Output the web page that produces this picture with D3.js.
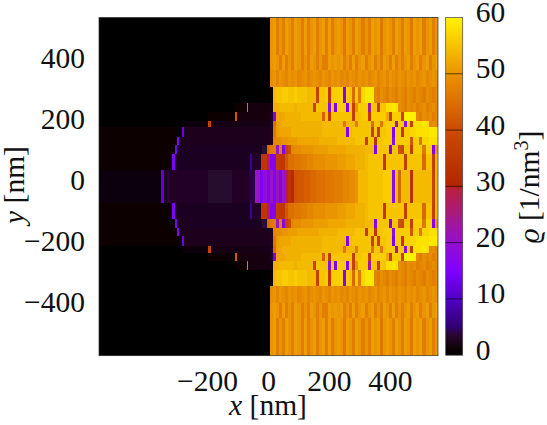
<!DOCTYPE html>
<html>
<head>
<meta charset="utf-8">
<script src="https://cdn.jsdelivr.net/npm/d3@7"></script>
<style>
  html, body { margin: 0; padding: 0; background: #fff; }
  svg { display: block; }
  text { font-family: "Liberation Serif", serif; font-size: 29.5px; fill: #111; }
</style>
</head>
<body>
<svg id="chart" width="547" height="425"></svg>
<script>
const w = 547;
const h = 425;

const xTicks = [-200, 0, 200, 400];
const yTicks = [-400, -200, 0, 200, 400];
const cbTicks = [0, 10, 20, 30, 40, 50, 60];

// colour stops of the palette
const paletteRho = [0, 1.5, 2.5, 3.5, 5, 10, 15, 20, 25, 29.5, 30, 35, 40, 45, 50, 55, 60];
const paletteColor = ['#000000', '#100308', '#1c0520', '#28072e', '#300070', '#5000c8', '#7f00ff', '#9210d0', '#a81a80', '#b82040',
  '#b42400', '#c03800', '#cc4a00', '#dc7000', '#e99400', '#f7c400', '#fff200'];

// upper edge of each half row in nm (the picture mirrors around y = 0), last one closes the centre row
const yEdges = [556, 433, 384, 327, 275, 246, 217, 195, 164, 136, 106, 55, -55];

// right of x = 5: one value per 10 nm column
const rho0 = [50, 51, 47, 50, 47, 51, 50, 47, 51, 50, 47, 51, 47, 50, 51, 47, 50, 51, 47, 51, 47, 50, 51, 50, 46, 51, 50, 47, 51, 50, 47, 50, 47, 51, 50, 51, 46, 50, 51, 50, 47, 51, 50, 47, 51, 50, 46, 51, 50, 51, 47, 50, 51, 47, 50];
const rho1 = [50, 51, 50, 47, 51, 47, 50, 47, 51, 50, 47, 50, 47, 51, 50, 47, 50, 47, 47, 51, 50, 51, 50, 51, 47, 50, 47, 51, 47, 50, 51, 47, 50, 51, 47, 50, 47, 51, 50, 47, 51, 47, 50, 47, 50, 51, 47, 50, 51, 47, 50, 51, 47, 50, 51];
const rho2 = [49, 50, 48, 50, 49, 48, 50, 49, 50, 48, 49, 50, 48, 49, 50, 49, 48, 50, 49, 48, 50, 49, 50, 48, 49, 48, 50, 49, 48, 50, 49, 50, 48, 49, 50, 48, 49, 50, 48, 50, 49, 48, 50, 49, 48, 50, 49, 50, 48, 49, 50, 48, 49, 50, 49];
const rho3 = [1, 54, 55, 55, 56, 56, 55, 55, 56, 55, 55, 55, 54, 54, 54, 38, 55, 55, 56, 34, 56, 56, 56, 57, 16, 56, 55, 44, 56, 46, 57, 59, 59, 59, 48, 47, 49, 48, 47, 49, 48, 47, 49, 48, 47, 49, 48, 47, 49, 48, 47, 49, 48, 47, 48];
const rho4 = [2, 53, 53, 54, 54, 54, 54, 54, 53, 54, 54, 54, 54, 54, 38, 55, 55, 55, 55, 18, 55, 17, 56, 56, 56, 16, 55, 37, 50, 56, 56, 56, 23, 55, 55, 36, 55, 55, 58, 58, 59, 58, 49, 48, 47, 49, 48, 49, 47, 48, 49, 47, 48, 49, 48];
const rho5 = [3, 17, 52, 52, 52, 53, 53, 53, 53, 53, 54, 54, 54, 54, 54, 54, 54, 43, 55, 35, 55, 55, 55, 55, 55, 55, 55, 36, 55, 55, 56, 56, 35, 56, 56, 56, 56, 56, 52, 36, 56, 56, 56, 38, 60, 60, 60, 60, 48, 47, 49, 48, 49, 47, 48];
const rho6 = [3, 45, 51, 52, 53, 53, 53, 53, 53, 53, 53, 53, 53, 53, 53, 53, 53, 54, 54, 54, 54, 54, 54, 54, 46, 54, 54, 54, 47, 55, 55, 55, 55, 45, 55, 55, 46, 55, 56, 56, 56, 22, 56, 56, 18, 56, 36, 58, 58, 58, 59, 58, 48, 49, 48];
const rho7 = [3, 46, 51, 52, 52, 52, 52, 53, 53, 53, 53, 53, 53, 53, 53, 53, 53, 54, 54, 54, 54, 54, 54, 54, 54, 17, 54, 55, 55, 55, 55, 55, 55, 36, 55, 36, 55, 55, 56, 56, 16, 56, 56, 35, 56, 56, 57, 57, 58, 58, 58, 58, 59, 59, 59];
const rho8 = [3, 48, 49, 49, 50, 50, 51, 51, 51, 52, 52, 52, 52, 52, 52, 52, 53, 53, 53, 53, 53, 53, 54, 54, 54, 54, 54, 54, 55, 55, 55, 36, 55, 55, 34, 55, 55, 56, 56, 56, 18, 56, 56, 56, 56, 56, 42, 56, 56, 46, 57, 57, 58, 58, 58];
const rho9 = [46, 47, 21, 47, 16, 37, 40, 48, 49, 49, 50, 50, 50, 50, 51, 51, 51, 51, 51, 52, 52, 52, 52, 52, 52, 53, 53, 53, 53, 53, 53, 54, 54, 54, 17, 55, 55, 55, 55, 16, 55, 55, 41, 40, 55, 55, 36, 56, 56, 56, 46, 57, 57, 17, 50];
const rho10 = [17, 17, 36, 35, 35, 42, 45, 45, 46, 46, 47, 47, 48, 48, 49, 49, 49, 49, 50, 50, 50, 50, 51, 51, 51, 52, 52, 52, 53, 53, 53, 54, 55, 55, 55, 55, 55, 35, 55, 55, 55, 55, 55, 55, 36, 55, 55, 55, 55, 55, 44, 55, 55, 37, 54];
const rho11 = [21, 15, 22, 17, 21, 28, 34, 32, 41, 42, 42, 43, 43, 44, 44, 45, 45, 45, 46, 46, 46, 47, 47, 47, 48, 48, 49, 49, 50, 54, 54, 54, 55, 55, 55, 55, 55, 56, 56, 56, 18, 54, 44, 54, 54, 54, 33, 54, 54, 54, 54, 54, 54, 38, 54];

// left of x = 5: runs of [start x in nm, rho]
const left0 = [[-556, 0]];
const left1 = [[-556, 0]];
const left2 = [[-556, 0]];
const left3 = [[-556, 0], [-90, 0.6]];
const left4 = [[-556, 0], [-110, 0.8], [-72, 46], [-68, 1.8]];
const left5 = [[-556, 0.3], [-200, 0.8], [-110, 42], [-104, 1.8]];
const left6 = [[-556, 0.6], [-280, 1.3], [-197, 38], [-190, 2.2]];
const left7 = [[-556, 1], [-285, 13], [-277, 2.4]];
const left8 = [[-556, 1.2], [-300, 17], [-292, 2.4]];
const left9 = [[-556, 1.2], [-306, 14], [-300, 2.5], [-20, 3.6], [-6, 44]];
const left10 = [[-556, 1.2], [-316, 15], [-306, 2.4], [-295, 5], [-292, 2.5], [-60, 7], [-54, 3.2], [-25, 34], [-6, 27]];
const left11 = [[-556, 1.5], [-352, 12], [-343, 2.8], [-333, 4.2], [-326, 3], [-200, 3.4], [-120, 3], [-65, 4], [-44, 21], [-28, 16], [-17, 19], [-6, 17]];

const rightRows = [rho0, rho1, rho2, rho3, rho4, rho5, rho6, rho7, rho8, rho9, rho10, rho11];
const leftRows = [left0, left1, left2, left3, left4, left5, left6, left7, left8, left9, left10, left11];

const xDomain = [-556, 556];
const colStart = 5;
const colWidth = 10;

const xScale = d3.scaleLinear().domain(xDomain).range([99, 438]);
const yScale = d3.scaleLinear().domain(xDomain).range([355.7, 17.5]);
const cbScale = d3.scaleLinear().domain([0, 60]).range([355.2, 17.5]);
const color = d3.scaleLinear().domain(paletteRho).range(paletteColor).clamp(true);

// flatten rows to cells, top half is mirrored to the bottom half
const cells = [];
rightRows.forEach((row, r) => {
  const yTop = yEdges[r];
  const yBot = yEdges[r + 1];
  const spans = [[yTop, yBot]];
  if (r < 11) spans.push([-yBot, -yTop]);
  spans.forEach((s) => {
    leftRows[r].forEach((run, k) => {
      const next = k + 1 < leftRows[r].length ? leftRows[r][k + 1][0] : colStart;
      cells.push({ x0: run[0], x1: next, y0: s[0], y1: s[1], v: run[1] });
    });
    row.forEach((v, i) => {
      cells.push({ x0: colStart + i * colWidth, x1: colStart + (i + 1) * colWidth, y0: s[0], y1: s[1], v: v });
    });
  });
});

const svg = d3.select('#chart');
const defs = svg.append('defs');

const plotX = xScale(xDomain[0]);
const plotY = yScale(xDomain[1]);
const plotW = xScale(xDomain[1]) - xScale(xDomain[0]);
const plotH = yScale(xDomain[0]) - yScale(xDomain[1]);

defs.append('clipPath').attr('id', 'plot-clip')
  .append('rect')
  .attr('x', plotX)
  .attr('y', plotY)
  .attr('width', plotW)
  .attr('height', plotH);

defs.append('filter').attr('id', 'soft')
  .attr('x', '-2%').attr('y', '-2%').attr('width', '104%').attr('height', '104%')
  .append('feGaussianBlur')
  .attr('stdDeviation', 0.45);

const grad = defs.append('linearGradient').attr('id', 'cb-grad')
  .attr('x1', 0).attr('y1', 1).attr('x2', 0).attr('y2', 0);
paletteRho.forEach((v, i) => {
  grad.append('stop').attr('offset', v / 60).attr('stop-color', paletteColor[i]);
});

const heat = svg.append('g')
  .attr('clip-path', 'url(#plot-clip)')
  .append('g')
  .attr('filter', 'url(#soft)');

heat.append('rect')
  .attr('x', plotX - 3)
  .attr('y', plotY - 3)
  .attr('width', plotW + 6)
  .attr('height', plotH + 6)
  .attr('fill', '#000');

heat.selectAll('.cell')
  .data(cells)
  .enter()
  .append('rect')
  .attr('class', 'cell')
  .attr('shape-rendering', 'crispEdges')
  .attr('x', (d) => xScale(d.x0))
  .attr('y', (d) => yScale(d.y0))
  .attr('width', (d) => xScale(d.x1) - xScale(d.x0))
  .attr('height', (d) => yScale(d.y1) - yScale(d.y0))
  .attr('fill', (d) => color(d.v));

// frame
svg.append('rect')
  .attr('x', plotX)
  .attr('y', plotY)
  .attr('width', plotW)
  .attr('height', plotH)
  .attr('fill', 'none')
  .attr('stroke', '#333')
  .attr('stroke-width', 0.7);

// colour bar
const cbX = 445.7;
const cbW = 17;
svg.append('rect')
  .attr('x', cbX)
  .attr('y', cbScale(60))
  .attr('width', cbW)
  .attr('height', cbScale(0) - cbScale(60))
  .attr('fill', 'url(#cb-grad)')
  .attr('stroke', '#444')
  .attr('stroke-width', 0.7);

svg.append('g')
  .selectAll('line')
  .data(cbTicks.slice(1, -1))
  .enter()
  .append('line')
  .attr('x1', cbX)
  .attr('x2', cbX + cbW)
  .attr('y1', (d) => cbScale(d))
  .attr('y2', (d) => cbScale(d))
  .attr('stroke', '#000')
  .attr('stroke-opacity', 0.75)
  .attr('stroke-width', 0.8);

// axes, the label positions sit a bit above the real tick like in the original
const fmt = (d) => (d < 0 ? '\u2212' + Math.abs(d) : d);

const xAxis = svg.append('g')
  .attr('transform', `translate(0, ${yScale(xDomain[0])})`)
  .call(d3.axisBottom(xScale).tickValues(xTicks).tickFormat(fmt).tickSize(0).tickPadding(14));
const yAxis = svg.append('g')
  .attr('transform', `translate(${xScale(xDomain[0])}, 0)`)
  .call(d3.axisLeft(yScale).tickValues(yTicks).tickFormat(fmt).tickSize(0).tickPadding(14));
const cbAxis = svg.append('g')
  .attr('transform', `translate(${cbX + cbW}, 0)`)
  .call(d3.axisRight(cbScale).tickValues(cbTicks).tickSize(0).tickPadding(13));

[xAxis, yAxis, cbAxis].forEach((g) => {
  g.select('.domain').remove();
  g.attr('font-family', null).attr('font-size', null);
});
xAxis.selectAll('text').attr('dx', -0.5);
yAxis.selectAll('text').attr('dy', 3);
cbAxis.selectAll('text').attr('dy', 4);

// axis titles
const xTitle = svg.append('text').attr('x', 268).attr('y', 415).attr('text-anchor', 'middle');
xTitle.append('tspan').attr('font-style', 'italic').text('x');
xTitle.append('tspan').text(' [nm]');

const yTitle = svg.append('text')
  .attr('transform', 'translate(24, 185) rotate(-90)')
  .attr('text-anchor', 'middle');
yTitle.append('tspan').attr('font-style', 'italic').text('y');
yTitle.append('tspan').text(' [nm]');

const cbTitle = svg.append('text')
  .attr('transform', 'translate(539, 187) rotate(-90)')
  .attr('text-anchor', 'middle');
cbTitle.append('tspan').attr('font-style', 'italic').text('\u03f1');
cbTitle.append('tspan').text(' [1/nm');
cbTitle.append('tspan').attr('dy', -11).attr('font-size', 20).text('3');
cbTitle.append('tspan').attr('dy', 11).text(']');
</script>
</body>
</html>
